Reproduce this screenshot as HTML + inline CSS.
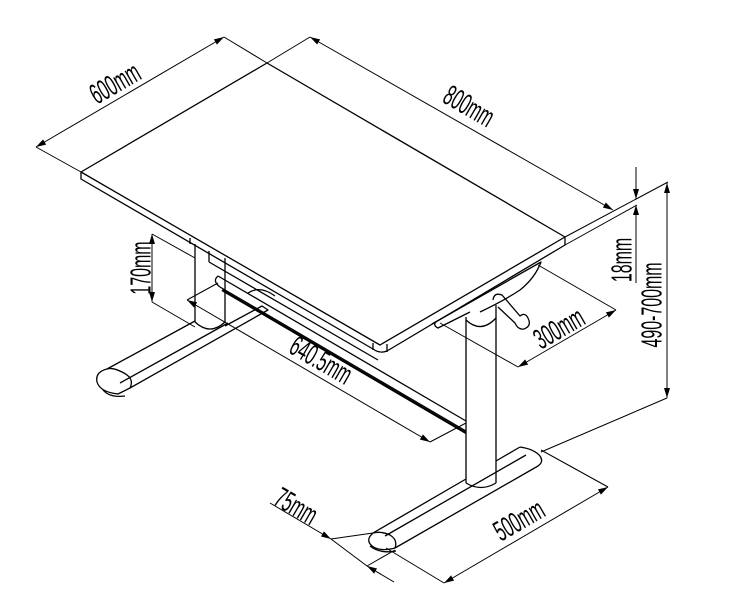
<!DOCTYPE html>
<html><head><meta charset="utf-8"><style>
html,body{margin:0;padding:0;background:#fff;}
svg{display:block;}
text{font-family:"Liberation Sans",sans-serif;font-size:29px;fill:#000;}
</style></head><body>
<svg width="750" height="608" viewBox="0 0 750 608" xmlns="http://www.w3.org/2000/svg">
<defs>
<marker id="a" viewBox="0 0 10 6" refX="10" refY="3" markerWidth="10" markerHeight="6" markerUnits="userSpaceOnUse" orient="auto-start-reverse"><path d="M0,0 L10,3 L0,6 z" fill="#000"/></marker>
</defs>
<g fill="none" stroke="#000" stroke-width="1.3" stroke-linejoin="round">
<!-- back column -->
<line x1="195" y1="244" x2="195" y2="322"/>
<line x1="225" y1="258" x2="225" y2="322"/>
<path d="M195,322 Q210,336 225,322"/>
<!-- back foot -->
<path d="M107,369 L195,321 M225,326 L262,306 L268,310 L130,388"/>
<path d="M228,323 L120,383"/>
<path d="M107,369 Q95,372 97,382 Q100,392 118,394 L130,388 Q135,378 122,372 Q112,367 107,369 z"/>
<path d="M103,390 Q110,398 125,396"/>
<!-- crossbar -->
<path d="M218,276 L466,421 M220,287 L466,431"/>
<path d="M218,276 Q212,281 220,287"/>
<line x1="222" y1="290" x2="466" y2="433" stroke-width="2.2"/>
<path d="M248,293 Q260,285 275,296"/>
<!-- tabletop -->
<path d="M81,172 L267,63 L565,237 L380,345 Z"/>
<path d="M81,172 L81,179 L373,349 Q380,354 387,351 L565,245 L565,237"/>
<path d="M373,343 L373,350 M387,344 L387,352"/>
<!-- aprons -->
<path d="M190,238 L190,244 M209,251 L209,262 M209,262 L378,360"/>
<path d="M432,324 L541,262 Q535,278 520,290 Q505,300 480,312"/>
<path d="M437,321 Q432,325 438,328 L470,312"/>
<!-- front column -->
<line x1="466" y1="317" x2="466" y2="483"/>
<line x1="496" y1="305" x2="496" y2="483"/>
<path d="M466,320 Q481,334 496,318"/>
<path d="M466,483 Q481,492 496,483"/>
<!-- crank -->
<path d="M493,300 Q494,292 502,295 L520,316 Q525,312 528,318 Q532,326 524,329 Q518,330 515,323 L498,307"/>
<!-- front foot -->
<path d="M466,479 L373,533 M496,461 L520,447 M520,447 Q534,449 540,456 Q544,462 538,466 L395,548"/>
<path d="M526,455 L385,536"/>
<path d="M373,533 Q365,540 372,546 Q380,552 395,548 Q398,540 390,535 Q382,531 373,533 z"/>
<path d="M370,546 Q380,554 396,551"/>
</g>
<!-- dimension lines -->
<g fill="none" stroke="#000" stroke-width="1">
<line x1="36" y1="147" x2="224" y2="37" marker-start="url(#a)" marker-end="url(#a)"/>
<line x1="224" y1="37" x2="267" y2="63"/>
<line x1="36" y1="147" x2="81" y2="172"/>
<line x1="310" y1="37" x2="613" y2="210" marker-start="url(#a)" marker-end="url(#a)"/>
<line x1="310" y1="37" x2="267" y2="63"/>
<line x1="565" y1="237" x2="668" y2="182"/>
<line x1="565" y1="245" x2="637" y2="205"/>
<line x1="636" y1="167" x2="636" y2="199" marker-end="url(#a)"/>
<line x1="636" y1="283" x2="636" y2="205" marker-end="url(#a)"/>
<line x1="667" y1="183" x2="667" y2="398" marker-start="url(#a)" marker-end="url(#a)"/>
<line x1="667" y1="398" x2="541" y2="452"/>
<line x1="616" y1="310" x2="518" y2="367" marker-start="url(#a)" marker-end="url(#a)"/>
<line x1="616" y1="310" x2="538" y2="265"/>
<line x1="518" y1="367" x2="440" y2="323"/>
<line x1="152" y1="234" x2="152" y2="302" marker-start="url(#a)" marker-end="url(#a)"/>
<line x1="152" y1="234" x2="195" y2="258"/>
<line x1="152" y1="302" x2="195" y2="327"/>
<line x1="187" y1="300" x2="430" y2="442" marker-start="url(#a)" marker-end="url(#a)"/>
<line x1="187" y1="300" x2="218" y2="283"/>
<line x1="430" y1="442" x2="466" y2="423"/>
<line x1="608" y1="487" x2="444" y2="583" marker-start="url(#a)" marker-end="url(#a)"/>
<line x1="608" y1="487" x2="541" y2="450"/>
<line x1="444" y1="583" x2="386" y2="548"/>
<line x1="270" y1="503" x2="331" y2="539" marker-end="url(#a)"/>
<line x1="394" y1="582" x2="367" y2="566" marker-end="url(#a)"/>
<line x1="331" y1="539" x2="367" y2="566"/>
<line x1="331" y1="539" x2="373" y2="533"/>
<line x1="367" y1="566" x2="395" y2="550"/>
</g>
<g>
<text transform="translate(116,85) rotate(-30) scale(0.55,1)" text-anchor="middle" dominant-baseline="middle">600mm</text>
<text transform="translate(468,108) rotate(30) scale(0.55,1)" text-anchor="middle" dominant-baseline="middle">800mm</text>
<text transform="translate(624,260) rotate(-90) scale(0.55,1)" text-anchor="middle" dominant-baseline="middle">18mm</text>
<text transform="translate(654,305) rotate(-90) scale(0.55,1)" text-anchor="middle" dominant-baseline="middle">490-700mm</text>
<text transform="translate(143,268) rotate(-90) scale(0.55,1)" text-anchor="middle" dominant-baseline="middle">170mm</text>
<text transform="translate(320,362) rotate(30) scale(0.55,1)" text-anchor="middle" dominant-baseline="middle">640.5mm</text>
<text transform="translate(560,330) rotate(-30) scale(0.55,1)" text-anchor="middle" dominant-baseline="middle">300mm</text>
<text transform="translate(295,508) rotate(30) scale(0.55,1)" text-anchor="middle" dominant-baseline="middle">75mm</text>
<text transform="translate(520,522) rotate(-30) scale(0.55,1)" text-anchor="middle" dominant-baseline="middle">500mm</text>
</g>
</svg>
</body></html>
